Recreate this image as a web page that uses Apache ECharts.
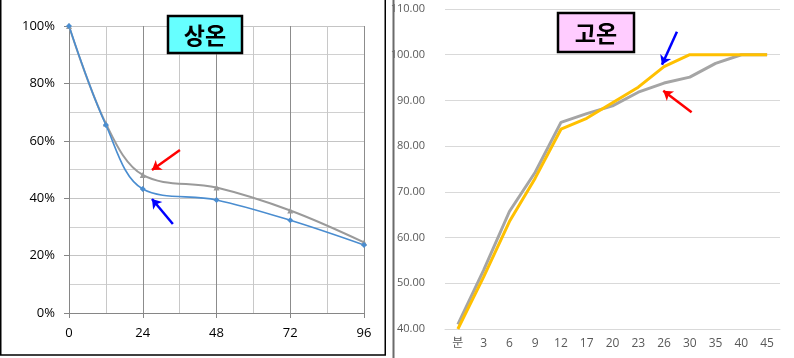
<!DOCTYPE html>
<html>
<head>
<meta charset="utf-8">
<script src="https://cdn.jsdelivr.net/npm/echarts@6/dist/echarts.min.js"></script>
<style>
html,body{margin:0;padding:0;background:#fff;}
#c{width:794px;height:358px;}
</style>
</head>
<body>
<div id="c"></div>
<script>
// Left chart (상온): hours vs remaining ratio
const leftHours = [0, 12, 24, 48, 72, 96];
const leftBlue = [1.00, 0.655, 0.432, 0.394, 0.323, 0.237];
const leftGray = [1.00, 0.66, 0.481, 0.437, 0.357, 0.246];
const leftTitle = '상온';

// Right chart (고온)
const rightCats = ['분', '3', '6', '9', '12', '17', '20', '23', '26', '30', '35', '40', '45'];
const rightGray = [41.0, 52.9, 65.7, 74.3, 85.2, 87.1, 88.8, 91.8, 93.8, 95.1, 98.1, 100, 100];
const rightGold = [40.0, 51.4, 63.5, 73.0, 83.7, 86.1, 89.5, 92.9, 97.4, 100, 100, 100, 100];
const rightTitle = '고온';

// annotation arrows [tail, head] in data coordinates
const leftRedArrow = [[36.1, 0.568], [27.0, 0.498]];
const leftBlueArrow = [[33.8, 0.310], [27.0, 0.397]];
const rightBlueArrow = [[8.5, 105.0], [7.92, 97.8]];
const rightRedArrow = [[9.07, 87.4], [7.97, 92.1]];

const numFont = 'Open Sans, Noto Sans CJK KR, sans-serif';
const chart = echarts.init(document.getElementById('c'), null, {renderer: 'canvas'});

function arrow(pair, color) {
  return [
    {coord: pair[0], lineStyle: {color: color, width: 2.5, type: 'solid'}},
    {coord: pair[1]}
  ];
}

function titleBox(x, y, w, h, fill, text) {
  return {
    type: 'group', x: x, y: y, z: 100,
    children: [
      {type: 'rect', z: 100, shape: {x: 0, y: 0, width: w, height: h},
       style: {fill: fill, stroke: '#000', lineWidth: 2.5}},
      {type: 'text', z: 101, x: w / 2, y: h / 2 + 1,
       style: {text: text, fill: '#000', font: 'bold 23px "Noto Sans CJK KR"',
               align: 'center', verticalAlign: 'middle'}}
    ]
  };
}

chart.setOption({
  animation: false,
  backgroundColor: '#fff',
  grid: [
    {left: 69, top: 26, width: 295, height: 287},
    {left: 445, top: 9, width: 335, height: 320}
  ],
  xAxis: [
    {
      gridIndex: 0, type: 'value', min: 0, max: 96, interval: 24,
      axisLine: {show: true, onZero: false, lineStyle: {color: '#868686', width: 1}},
      axisTick: {show: true, length: 5, lineStyle: {color: '#868686'}},
      axisLabel: {color: '#000', fontSize: 13, fontFamily: numFont, margin: 14},
      splitLine: {show: true, lineStyle: {color: '#8c8c8c', width: 1}},
      minorTick: {show: false, splitNumber: 2},
      minorSplitLine: {show: true, lineStyle: {color: '#c8c8c8', width: 1}}
    },
    {
      gridIndex: 1, type: 'category', data: rightCats, boundaryGap: true,
      axisLine: {show: true, lineStyle: {color: '#d9d9d9', width: 1}},
      axisTick: {show: false},
      axisLabel: {color: '#595959', fontSize: 12, fontFamily: numFont, margin: 9, interval: 0},
      splitLine: {show: false}
    },
    {
      gridIndex: 1, type: 'value', min: -0.5, max: 12.5, show: false
    }
  ],
  yAxis: [
    {
      gridIndex: 0, type: 'value', min: 0, max: 1, interval: 0.2,
      axisLine: {show: true, lineStyle: {color: '#868686', width: 1}},
      axisTick: {show: true, length: 5, lineStyle: {color: '#868686'}},
      axisLabel: {color: '#000', fontSize: 13, fontFamily: numFont, margin: 14,
                  formatter: v => Math.round(v * 100) + '%'},
      splitLine: {show: true, lineStyle: {color: '#c4c4c4', width: 1}},
      minorTick: {show: false, splitNumber: 2},
      minorSplitLine: {show: true, lineStyle: {color: '#d0d0d0', width: 1}}
    },
    {
      gridIndex: 1, type: 'value', min: 40, max: 110, interval: 10,
      axisLine: {show: false},
      axisTick: {show: false},
      axisLabel: {color: '#595959', fontSize: 11, fontFamily: numFont, margin: 20,
                  formatter: v => v.toFixed(2)},
      splitLine: {show: true, lineStyle: {color: '#d9d9d9', width: 1}}
    }
  ],
  series: [
    {
      type: 'line', xAxisIndex: 0, yAxisIndex: 0, smooth: 0.35,
      data: leftHours.map((h, i) => [h, leftGray[i]]),
      symbol: 'triangle', symbolSize: 6, showSymbol: true,
      lineStyle: {color: '#9a9a9a', width: 2},
      itemStyle: {color: '#9a9a9a'}
    },
    {
      type: 'line', xAxisIndex: 0, yAxisIndex: 0, smooth: 0.35,
      data: leftHours.map((h, i) => [h, leftBlue[i]]),
      symbol: 'diamond', symbolSize: 6, showSymbol: true,
      lineStyle: {color: '#4a8dd0', width: 1.6},
      itemStyle: {color: '#4a8dd0'},
      markLine: {
        silent: true, symbol: ['none', 'arrow'], symbolSize: 9,
        label: {show: false},
        data: [arrow(leftRedArrow, '#ff0000'), arrow(leftBlueArrow, '#0000ff')]
      }
    },
    {
      type: 'line', xAxisIndex: 1, yAxisIndex: 1,
      data: rightGray, showSymbol: false, symbol: 'none',
      lineStyle: {color: '#a5a5a5', width: 3}
    },
    {
      type: 'line', xAxisIndex: 1, yAxisIndex: 1,
      data: rightGold, showSymbol: false, symbol: 'none',
      lineStyle: {color: '#ffc000', width: 3}
    },
    {
      type: 'line', xAxisIndex: 2, yAxisIndex: 1,
      data: [], symbol: 'none',
      markLine: {
        silent: true, symbol: ['none', 'arrow'], symbolSize: 9,
        label: {show: false},
        data: [arrow(rightBlueArrow, '#0000ff'), arrow(rightRedArrow, '#ff0000')]
      }
    }
  ],
  graphic: [
    {type: 'rect', z: 50, shape: {x: 0.75, y: -2, width: 384.5, height: 357},
     style: {fill: 'none', stroke: '#000', lineWidth: 1.5}},
    {type: 'line', z: 50, shape: {x1: 393.5, y1: 0, x2: 393.5, y2: 358},
     style: {stroke: '#6b6b6b', lineWidth: 2}},
    titleBox(168, 16, 74, 37, '#66ffff', leftTitle),
    titleBox(558, 13, 76, 39, '#ffccff', rightTitle)
  ]
});
</script>
</body>
</html>
